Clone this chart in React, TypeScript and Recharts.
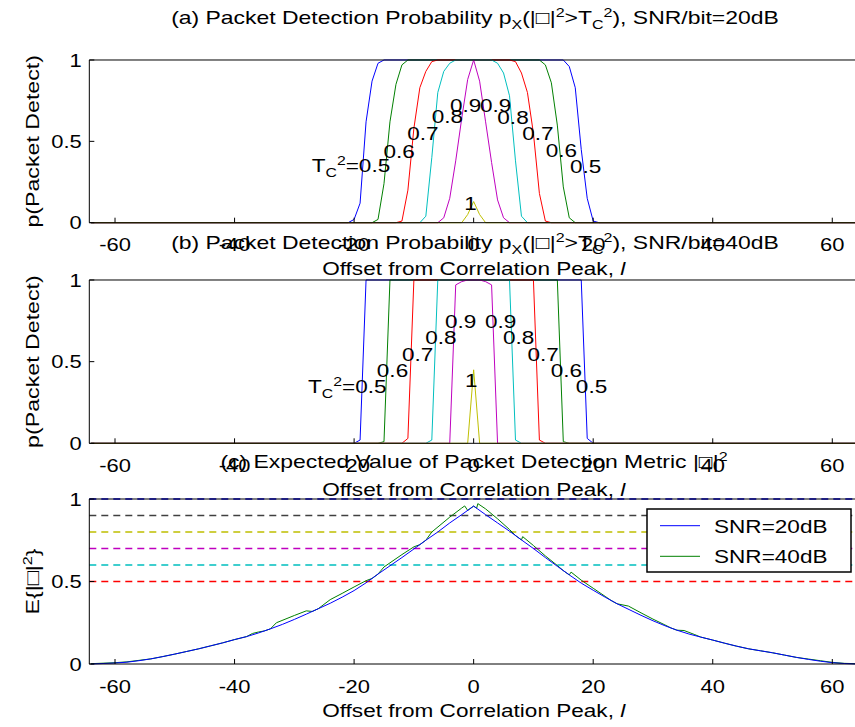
import React from "react";
import { LineChart, Line, XAxis, YAxis, ReferenceLine, ReferenceDot, Legend } from "recharts";

const FONT = "'Liberation Sans', Arial, Helvetica, sans-serif";
const SX = 1.22; // the original glyphs are wider than Arial

const offsetTicks = [-60, -40, -20, 0, 20, 40, 60];
const probTicks = [0, 0.5, 1];
const offsetDomain = [-64.3, 64.3];

const curveColors = ["#0000ff", "#008000", "#ff0000", "#00bfbf", "#bf00bf", "#bfbf00"];

// (a) SNR/bit = 20dB : [offset, p(detect)] for T_C^2 = 0.5 ... 1
const det20_05 = [[-64, 0], [-21, 0], [-20, 0.02], [-19, 0.12], [-18, 0.62], [-17, 0.87], [-16, 0.98], [-15, 1], [15, 1], [16, 0.96], [17, 0.83], [18, 0.45], [19, 0.15], [20, 0.01], [21, 0], [64, 0]];
const det20_06 = [[-64, 0], [-17, 0], [-16, 0.02], [-15, 0.24], [-14, 0.62], [-13, 0.85], [-12, 0.97], [-11, 1], [11, 1], [12, 0.97], [13, 0.86], [14, 0.6], [15, 0.22], [16, 0.03], [17, 0], [64, 0]];
const det20_07 = [[-64, 0], [-13, 0], [-12, 0.01], [-11, 0.2], [-10, 0.58], [-9, 0.83], [-8, 0.93], [-7, 0.99], [-6, 1], [6, 1], [7, 0.99], [8, 0.92], [9, 0.8], [10, 0.55], [11, 0.18], [12, 0.01], [13, 0], [64, 0]];
const det20_08 = [[-64, 0], [-9, 0], [-8, 0.04], [-7, 0.4], [-6, 0.8], [-5, 0.93], [-4, 0.98], [-3, 1], [3, 1], [4, 0.98], [5, 0.92], [6, 0.78], [7, 0.38], [8, 0.04], [9, 0], [64, 0]];
const det20_09 = [[-64, 0], [-6, 0], [-5, 0.03], [-4, 0.15], [-3, 0.38], [-2, 0.64], [-1, 0.88], [0, 1], [1, 0.87], [2, 0.62], [3, 0.37], [4, 0.14], [5, 0.03], [6, 0], [64, 0]];
const det20_10 = [[-64, 0], [-2, 0], [-1, 0.05], [0, 0.13], [1, 0.05], [2, 0], [64, 0]];
const curves20 = [det20_05, det20_06, det20_07, det20_08, det20_09, det20_10];

// (b) SNR/bit = 40dB
const det40_05 = [[-64, 0], [-20, 0], [-19, 0.02], [-18, 1], [18, 1], [19, 0.03], [20, 0], [64, 0]];
const det40_06 = [[-64, 0], [-16, 0], [-15, 0.01], [-14, 1], [14, 1], [15, 0.01], [16, 0], [64, 0]];
const det40_07 = [[-64, 0], [-12, 0], [-11, 0.03], [-10, 1], [10, 1], [11, 0.02], [12, 0], [64, 0]];
const det40_08 = [[-64, 0], [-8, 0], [-7, 0.02], [-6, 1], [6, 1], [7, 0.02], [8, 0], [64, 0]];
const det40_09 = [[-64, 0], [-4, 0], [-3, 0.97], [-2, 0.99], [-1, 1], [1, 1], [2, 0.99], [3, 0.97], [4, 0], [64, 0]];
const det40_10 = [[-64, 0], [-1, 0], [0, 0.45], [1, 0], [64, 0]];
const curves40 = [det40_05, det40_06, det40_07, det40_08, det40_09, det40_10];

// threshold tags: [text, offset, p]  ("TC2" -> T_C^2)
const tags20 = [["TC2=0.5", -27.1, 0.313], ["0.6", -15.1, 0.396], ["0.7", -11.1, 0.508], ["0.8", -7.0, 0.613], ["0.9", -3.96, 0.682], ["0.9", 1.06, 0.682], ["0.8", 3.96, 0.607], ["0.7", 8.14, 0.508], ["0.6", 12.05, 0.404], ["0.5", 16.1, 0.304], ["1", -1.56, 0.078]];
const tags40 = [["TC2=0.5", -27.7, 0.306], ["0.6", -16.2, 0.408], ["0.7", -12.0, 0.506], ["0.8", -8.1, 0.608], ["0.9", -4.8, 0.704], ["0.9", 1.9, 0.704], ["0.8", 4.9, 0.608], ["0.7", 9.0, 0.506], ["0.6", 12.9, 0.408], ["0.5", 17.1, 0.306], ["1", -1.45, 0.347]];

// (c) expected metric
const metricOffsets20 = [-64, -62, -60, -58, -56, -54, -52, -50, -48, -46, -44, -42, -40, -38, -36, -34, -32, -30, -28, -26, -24, -22, -20, -18, -16, -14, -12, -10, -8, -6, -4, -2, 0, 2, 4, 6, 8, 10, 12, 14, 16, 18, 20, 22, 24, 26, 28, 30, 32, 34, 36, 38, 40, 42, 44, 46, 48, 50, 52, 54, 56, 58, 60, 62, 64];
const metricValues20 = [0, 0.003, 0.006, 0.011, 0.02, 0.031, 0.045, 0.06, 0.076, 0.092, 0.11, 0.128, 0.148, 0.166, 0.188, 0.213, 0.24, 0.27, 0.302, 0.335, 0.368, 0.405, 0.445, 0.492, 0.545, 0.595, 0.645, 0.697, 0.75, 0.8, 0.855, 0.905, 0.957, 0.905, 0.855, 0.805, 0.752, 0.7, 0.645, 0.592, 0.54, 0.49, 0.447, 0.405, 0.365, 0.33, 0.295, 0.262, 0.232, 0.205, 0.182, 0.163, 0.145, 0.126, 0.108, 0.092, 0.08, 0.068, 0.054, 0.04, 0.028, 0.017, 0.008, 0.003, 0];
const metricOffsets40 = [-64, -62, -60, -58, -56, -54, -52, -50, -48, -46, -44, -42, -40, -38, -37, -36, -35, -34, -33, -30, -28, -27, -26, -24, -22, -20, -18, -17, -16, -15, -12, -10, -9, -8, -7, -4, -2, -1.5, -1, 0, 0.5, 0.7, 2, 4, 6, 7, 8, 8.2, 10, 12, 14, 15, 16, 16.3, 18, 20, 22, 23, 24, 25.9, 28, 30, 32, 33, 34, 35.2, 37, 38, 40, 42, 44, 46, 48, 50, 52, 54, 56, 58, 60, 62, 64];
const metricValues40 = [0.002, 0.005, 0.008, 0.013, 0.022, 0.031, 0.045, 0.06, 0.076, 0.092, 0.11, 0.128, 0.148, 0.166, 0.185, 0.194, 0.2005, 0.213, 0.25, 0.294, 0.322, 0.3185, 0.335, 0.39, 0.428, 0.467, 0.505, 0.5185, 0.545, 0.588, 0.663, 0.71, 0.7235, 0.75, 0.8, 0.89, 0.945, 0.958, 0.931, 0.957, 0.944, 0.972, 0.94, 0.88, 0.815, 0.7785, 0.752, 0.772, 0.718, 0.655, 0.597, 0.566, 0.54, 0.557, 0.508, 0.459, 0.41, 0.385, 0.365, 0.351, 0.31, 0.272, 0.237, 0.2185, 0.205, 0.203, 0.178, 0.163, 0.145, 0.126, 0.108, 0.092, 0.08, 0.068, 0.054, 0.04, 0.03, 0.02, 0.01, 0.004, 0.002];
const levelValues = [0.5, 0.6, 0.7, 0.8, 0.9, 1];
const levelColors = ["#ff0000", "#00bfbf", "#bf00bf", "#bfbf00", "#404040", "#0000ff"];
const legendNames = ["SNR=20dB", "SNR=40dB"];
const legendColors = ["#0000ff", "#008000"];

const toPts = (pairs) => pairs.map(([l, p]) => ({ l, p }));
const metric20 = metricOffsets20.map((l, i) => ({ l, p: metricValues20[i] }));
const metric40 = metricOffsets40.map((l, i) => ({ l, p: metricValues40[i] }));

// ---- text helpers
const SHIFT = { n: 0, sub: 5, sup: -7 };
function rich(segs, size) {
  let cur = 0;
  return segs.map(([t, k], i) => {
    const dy = SHIFT[k] - cur;
    cur = SHIFT[k];
    return (
      <tspan key={i} dy={dy} fontSize={k === "n" ? size : size * 0.7}>
        {t}
      </tspan>
    );
  });
}

const Wide = ({ x, y, rotate = 0, anchor = "start", size = 18.5, children }) => (
  <g transform={`translate(${x},${y}) rotate(${rotate}) scale(${SX},1)`}>
    <text textAnchor={anchor} fontSize={size} fontFamily={FONT} fill="#000">
      {children}
    </text>
  </g>
);

const XTick = ({ x, y, payload }) => <Wide x={x} y={y + 28.7} anchor="middle" size={18}>{payload.value}</Wide>;
const YTick = ({ x, y, payload }) => <Wide x={x - 7.6} y={y + 6.8} anchor="end" size={18}>{payload.value}</Wide>;

const tagShape = (t) => (p) => (
  <Wide x={p.cx} y={p.cy}>
    {t.startsWith("TC2") ? rich([["T", "n"], ["C", "sub"], ["2", "sup"], [t.slice(3), "n"]], 18.5) : t}
  </Wide>
);

// ---- layout
const CW = 870;
const PLOT_LEFT = 89.3;
const PLOT_RIGHT = 858;
const YW = 60;
const PAD_TOP = 10;
const XH = 40;

function Panel({ top, bottom, children }) {
  const plotH = bottom - top;
  return (
    <div style={{ position: "absolute", left: 0, top: top - PAD_TOP }}>
      <LineChart
        width={CW}
        height={plotH + PAD_TOP + XH}
        margin={{ top: PAD_TOP - 1, right: CW - PLOT_RIGHT - 1, bottom: 0, left: PLOT_LEFT - YW }}
      >
        <XAxis type="number" dataKey="l" domain={offsetDomain} ticks={offsetTicks} interval={0} allowDataOverflow height={XH} tickSize={-5} tickMargin={5} stroke="#000" tick={(p) => <XTick {...p} />} />
        <XAxis xAxisId="top" orientation="top" type="number" dataKey="l" domain={offsetDomain} ticks={offsetTicks} interval={0} allowDataOverflow height={1} tickSize={-5} stroke="#000" tick={false} />
        <YAxis type="number" domain={[0, 1]} ticks={probTicks} interval={0} width={YW} tickSize={-5} tickMargin={5} stroke="#000" tick={(p) => <YTick {...p} />} />
        <YAxis yAxisId="right" orientation="right" type="number" domain={[0, 1]} ticks={probTicks} interval={0} width={1} tickSize={-5} stroke="#000" tick={false} />
        {children}
      </LineChart>
    </div>
  );
}

const detectionPanel = (curves, tags, top, bottom) => (
  <Panel top={top} bottom={bottom}>
    {curves.map((c, i) => (
      <Line key={i} data={toPts(c)} dataKey="p" type="linear" stroke={curveColors[i]} strokeWidth={1} dot={false} activeDot={false} isAnimationActive={false} />
    ))}
    {tags.map(([t, l, p], i) => (
      <ReferenceDot key={"t" + i} x={l} y={p} r={0} shape={tagShape(t)} />
    ))}
  </Panel>
);

const LegendBox = () => (
  <svg width={206} height={66} style={{ display: "block" }}>
    <rect x={1} y={1} width={204} height={63} fill="#fff" stroke="#000" strokeWidth={1.5} />
    {legendNames.map((n, i) => (
      <g key={n}>
        <line x1={14} x2={54} y1={17.7 + i * 30.6} y2={17.7 + i * 30.6} stroke={legendColors[i]} strokeWidth={1} />
        <Wide x={68} y={24.5 + i * 30.6}>{n}</Wide>
      </g>
    ))}
  </svg>
);

const xLabel = (y) => (
  <Wide x={473.7} y={y} anchor="middle">
    Offset from Correlation Peak, <tspan fontStyle="italic">l</tspan>
  </Wide>
);

const detTitle = (tag, snr) =>
  rich([[`(${tag}) Packet Detection Probability p`, "n"], ["X", "sub"], ["(|□|", "n"], ["2", "sup"], [">T", "n"], ["C", "sub"], ["2", "sup"], [`), SNR/bit=${snr}`, "n"]], 18.8);

export default function App() {
  return (
    <div style={{ position: "absolute", left: 0, top: 0, width: 855, height: 727, overflow: "hidden", background: "#fff" }}>
      {detectionPanel(curves20, tags20, 60, 222.7)}
      {detectionPanel(curves40, tags40, 280, 443.3)}
      <Panel top={499} bottom={664}>
        {levelValues.map((v, i) => (
          <ReferenceLine key={"lvl" + i} y={v} stroke={levelColors[i]} strokeWidth={1.3} strokeDasharray="7 5" ifOverflow="visible" />
        ))}
        <Line data={metric40} dataKey="p" name={legendNames[1]} type="linear" stroke={legendColors[1]} strokeWidth={1} dot={false} activeDot={false} isAnimationActive={false} />
        <Line data={metric20} dataKey="p" name={legendNames[0]} type="linear" stroke={legendColors[0]} strokeWidth={1} dot={false} activeDot={false} isAnimationActive={false} />
        <Legend layout="vertical" verticalAlign="middle" align="center" wrapperStyle={{ left: 645.7, top: 19, width: 206, height: 66 }} content={() => <LegendBox />} />
      </Panel>
      <svg width={855} height={727} style={{ position: "absolute", left: 0, top: 0, pointerEvents: "none" }}>
        <Wide x={475} y={24} anchor="middle" size={18.8}>{detTitle("a", "20dB")}</Wide>
        <Wide x={475} y={249} anchor="middle" size={18.8}>{detTitle("b", "40dB")}</Wide>
        <Wide x={474} y={468} anchor="middle" size={18.8}>
          {rich([["(c) Expected Value of Packet Detection Metric |□|", "n"], ["2", "sup"]], 18.8)}
        </Wide>
        {xLabel(275.4)}
        {xLabel(496)}
        {xLabel(716.7)}
        <Wide x={39} y={141.3} rotate={-90} anchor="middle" size={19}>p(Packet Detect)</Wide>
        <Wide x={39} y={361.6} rotate={-90} anchor="middle" size={19}>p(Packet Detect)</Wide>
        <Wide x={39} y={581.5} rotate={-90} anchor="middle" size={19}>
          {rich([["E{|□|", "n"], ["2", "sup"], ["}", "n"]], 19)}
        </Wide>
      </svg>
    </div>
  );
}
